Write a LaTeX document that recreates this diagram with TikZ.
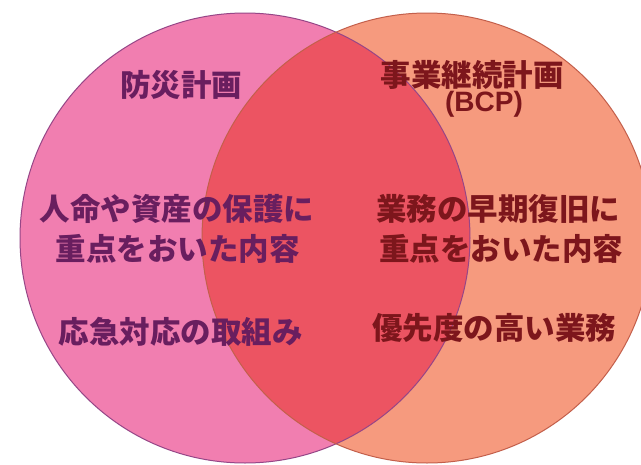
\documentclass[tikz,border=0pt]{standalone}
\usepackage{fontspec}
\newfontfamily\jp{Noto Sans CJK JP}
\newfontfamily\lat{Liberation Sans}
\definecolor{pinkfill}{RGB}{241,126,176}
\definecolor{salmonfill}{RGB}{246,154,126}
\definecolor{overlapfill}{RGB}{236,84,98}
\definecolor{pinkedge}{RGB}{150,70,135}
\definecolor{salmonedge}{RGB}{195,95,75}
\definecolor{lefttext}{RGB}{105,30,95}
\definecolor{righttext}{RGB}{125,22,28}
\tikzset{
  lbl/.style={inner sep=0pt, font=\jp\bfseries\fontsize{30.5pt}{36pt}\selectfont, align=center},
  ltxt/.style={lbl, text=lefttext},
  rtxt/.style={lbl, text=righttext},
}
\begin{document}
\begin{tikzpicture}[x=1pt,y=-1pt]
\useasboundingbox (0,0) rectangle (641,464);
\fill[white] (0,0) rectangle (641,464);
\clip (0,0) rectangle (641,464);
% circles
\fill[pinkfill] (245,238) circle[radius=225];
\fill[salmonfill] (427,238) circle[radius=225];
\begin{scope}
  \clip (245,238) circle[radius=225];
  \fill[overlapfill] (427,238) circle[radius=225];
\end{scope}
\draw[pinkedge, line width=1pt] (245,238) circle[radius=225];
\draw[salmonedge, line width=1pt] (427,238) circle[radius=225];
% left texts
\node[ltxt] (bousai) at (181,85) {防災計画};
\node[ltxt] (l1) at (177,209) {人命や資産の保護に};
\node[ltxt] (l2) at (178,249) {重点をおいた内容};
\node[ltxt] (l3) at (181,332) {応急対応の取組み};
% right texts
\node[rtxt] (bcp) at (472,75) {事業継続計画};
\node[rtxt, font=\lat\bfseries\fontsize{28pt}{32pt}\selectfont] (bcp2) at (484,104) {(BCP)};
\node[rtxt] (r1) at (498,209) {業務の早期復旧に};
\node[rtxt] (r2) at (501,249) {重点をおいた内容};
\node[rtxt] (r3) at (494,328) {優先度の高い業務};
\end{tikzpicture}
\end{document}
